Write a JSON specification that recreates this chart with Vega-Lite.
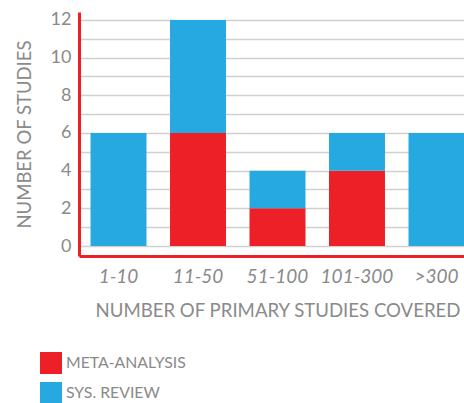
{
  "$schema": "https://vega.github.io/schema/vega-lite/v6.json",
  "width": 397,
  "height": 244,
  "autosize": "none",
  "padding": {"left": 79, "top": 12, "right": 0, "bottom": 147},
  "background": "white",
  "config": {"view": {"stroke": null}, "font": "Lato"},
  "data": {"values": [
    {"range": "1-10", "type": "META-ANALYSIS", "n": 0},
    {"range": "1-10", "type": "SYS. REVIEW", "n": 6},
    {"range": "11-50", "type": "META-ANALYSIS", "n": 6},
    {"range": "11-50", "type": "SYS. REVIEW", "n": 6},
    {"range": "51-100", "type": "META-ANALYSIS", "n": 2},
    {"range": "51-100", "type": "SYS. REVIEW", "n": 2},
    {"range": "101-300", "type": "META-ANALYSIS", "n": 4},
    {"range": "101-300", "type": "SYS. REVIEW", "n": 2},
    {"range": ">300", "type": "META-ANALYSIS", "n": 0},
    {"range": ">300", "type": "SYS. REVIEW", "n": 6}
  ]},
  "mark": {"type": "bar"},
  "encoding": {
    "x": {
      "field": "range", "type": "nominal",
      "sort": ["1-10", "11-50", "51-100", "101-300", ">300"],
      "scale": {"paddingInner": 0.296, "paddingOuter": 0.145},
      "axis": {
        "title": "NUMBER OF PRIMARY STUDIES COVERED",
        "titleFont": "Lato", "titleFontSize": 18.6, "titleFontWeight": "normal", "titleColor": "#8a8a8a",
        "titlePadding": 15,
        "labelAngle": 0, "labelFont": "Lato", "labelFontSize": 19, "labelFontStyle": "italic", "labelColor": "#8a8a8a",
        "labelPadding": 11,
        "ticks": false, "domainColor": "#ED2027", "domainWidth": 3
      }
    },
    "y": {
      "field": "n", "type": "quantitative", "stack": "zero",
      "scale": {"domain": [-0.53, 12.42], "nice": false, "zero": false},
      "axis": {
        "title": "NUMBER OF STUDIES",
        "titleFont": "Lato", "titleFontSize": 18.5, "titleFontWeight": "normal", "titleColor": "#8a8a8a",
        "titlePadding": 16,
        "values": [0,1,2,3,4,5,6,7,8,9,10,11,12],
        "labelExpr": "datum.value % 2 == 0 ? datum.label : ''",
        "labelFont": "Lato", "labelFontSize": 18, "labelColor": "#8a8a8a", "labelPadding": 8,
        "ticks": false, "domainColor": "#ED2027", "domainWidth": 3,
        "grid": true, "gridColor": "#d0d0d0", "gridWidth": 1.5
      }
    },
    "color": {
      "field": "type", "type": "nominal",
      "scale": {"domain": ["META-ANALYSIS", "SYS. REVIEW"], "range": ["#ED2027", "#26A9E0"]},
      "legend": {
        "title": null, "orient": "none", "legendX": -39, "legendY": 340,
        "symbolType": "square", "symbolSize": 484, "symbolStrokeWidth": 0,
        "symbolOpacity": 1,
        "labelFont": "Lato", "labelFontSize": 15.8, "labelColor": "#8a8a8a", "labelOffset": 4,
        "rowPadding": 8
      }
    },
    "order": {"field": "type", "sort": "ascending"}
  }
}
